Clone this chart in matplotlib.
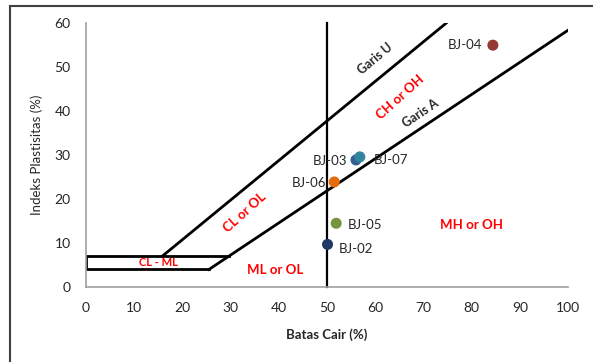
import matplotlib.pyplot as plt
from matplotlib.lines import Line2D

# --- data ---
sample_names = ["BJ-02", "BJ-03", "BJ-04", "BJ-05", "BJ-06", "BJ-07"]
liquid_limit = [50.1, 56.0, 84.4, 51.9, 51.5, 56.8]
plasticity_index = [9.7, 28.9, 55.0, 14.5, 23.9, 29.6]
sample_colors = ["#1F3864", "#376092", "#953735", "#77933C", "#E46C0A", "#31859C"]

# Casagrande lines (endpoints)
a_line_ll = [25.5, 100]
a_line_pi = [4, 58.4]
u_line_ll = [15.8, 74.7]
u_line_pi = [7, 60]
clml_ll = [29.6, 0, 0, 25.5]
clml_pi = [7, 7, 4, 4]
vline_ll = [50, 50]
vline_pi = [0, 60]

x_ticks = [0, 10, 20, 30, 40, 50, 60, 70, 80, 90, 100]
y_ticks = [0, 10, 20, 30, 40, 50, 60]

FONT = "Lato"
TEXT_COLOR = "#262626"
RED = "#FF0000"

plt.rcParams["font.family"] = FONT

fig = plt.figure(figsize=(5.93, 3.62), dpi=100)
ax = fig.add_axes([0.145, 0.207, 0.813, 0.729])

ax.plot(a_line_ll, a_line_pi, color="black", lw=2)
ax.plot(u_line_ll, u_line_pi, color="black", lw=2)
ax.plot(clml_ll, clml_pi, color="black", lw=2)
ax.plot(vline_ll, vline_pi, color="black", lw=1.6, clip_on=False)

ax.scatter(liquid_limit, plasticity_index, c=sample_colors, s=48, zorder=3)

# point labels
offsets = {"BJ-02": (8, -3, "left"), "BJ-03": (-6, -1, "right"), "BJ-04": (-8, 0, "right"),
           "BJ-05": (8, -1, "left"), "BJ-06": (-6, -1, "right"), "BJ-07": (10, -2, "left")}
for name, x, y in zip(sample_names, liquid_limit, plasticity_index):
    dx, dy, ha = offsets[name]
    ax.annotate(name, (x, y), xytext=(dx, dy), textcoords="offset points",
                ha=ha, va="center", fontsize=9.5, color=TEXT_COLOR)

# region labels
ax.text(60, 52, "Garis U", rotation=40, ha="center", va="center", fontsize=9, fontweight="bold", color=TEXT_COLOR)
ax.text(69.3, 39.5, "Garis A", rotation=34, ha="center", va="center", fontsize=9, fontweight="bold", color=TEXT_COLOR)
ax.text(65.1, 43.2, "CH or OH", rotation=42, ha="center", va="center", fontsize=9.5, fontweight="bold", color=RED)
ax.text(33, 17, "CL or OL", rotation=42, ha="center", va="center", fontsize=9.5, fontweight="bold", color=RED)
ax.text(15, 5.5, "CL - ML", ha="center", va="center", fontsize=8, fontweight="bold", color=RED)
ax.text(39.2, 3.8, "ML or OL", ha="center", va="center", fontsize=9.5, fontweight="bold", color=RED)
ax.text(80, 14, "MH or OH", ha="center", va="center", fontsize=9.5, fontweight="bold", color=RED)

ax.set_xlim(0, 100)
ax.set_ylim(0, 60)
ax.set_xticks(x_ticks)
ax.set_yticks(y_ticks)
ax.tick_params(length=0, labelsize=10, colors=TEXT_COLOR)
ax.tick_params(axis="x", pad=11)
ax.tick_params(axis="y", pad=11)

for side in ["top", "right"]:
    ax.spines[side].set_visible(False)
for side in ["left", "bottom"]:
    ax.spines[side].set_color("#A0A0A0")
    ax.spines[side].set_linewidth(1.2)

ax.set_xlabel("Batas Cair (%)", fontsize=9.5, fontweight="bold", color=TEXT_COLOR, labelpad=10)
ax.set_ylabel("Indeks Plastisitas (%)", fontsize=9.5, color=TEXT_COLOR, labelpad=8)

# outer chart frame (left and top edges visible)
fig.add_artist(Line2D([10 / 593, 10 / 593], [0, 1 - 6 / 362], transform=fig.transFigure, color="#404040", lw=1.5))
fig.add_artist(Line2D([10 / 593, 1], [1 - 6 / 362, 1 - 6 / 362], transform=fig.transFigure, color="#404040", lw=1.5))

fig.savefig("out.png", dpi=100)
